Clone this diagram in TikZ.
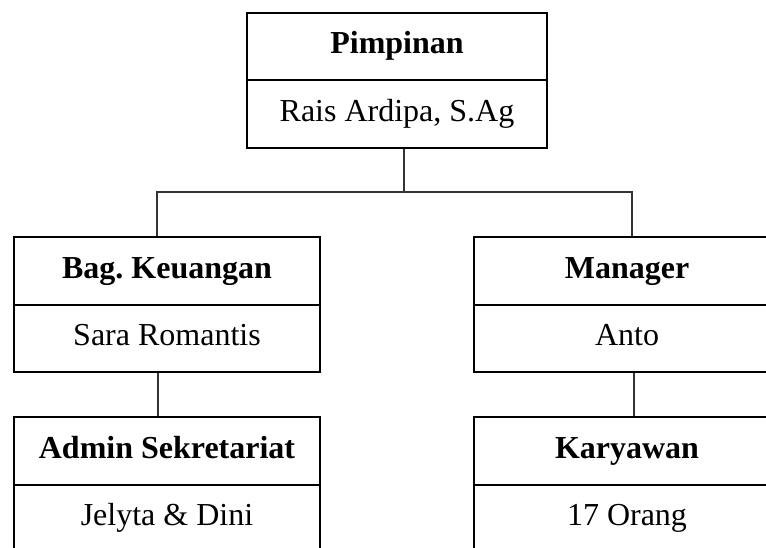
\documentclass[tikz,border=0pt]{standalone}
\usepackage{fontspec}
\setmainfont{Liberation Serif}
\frenchspacing
\begin{document}
\begin{tikzpicture}[x=1pt,y=-1pt,
  boxhead/.style={draw=black,line width=2.6pt,rectangle,inner sep=0pt,minimum width=306pt,minimum height=68pt,text height=22.4pt,text depth=8.4pt,font=\fontsize{32}{38}\selectfont\bfseries},
  boxbody/.style={draw=black,line width=2.6pt,rectangle,inner sep=0pt,minimum width=306pt,minimum height=67pt,text height=22.4pt,text depth=8.4pt,font=\fontsize{32}{38}\selectfont},
  conn/.style={draw=black!80,line width=1.6pt}]
\useasboundingbox (0,0) rectangle (766,547);
\clip (0,0) rectangle (766,547);
% top
\node[boxhead,minimum width=300pt,minimum height=67pt] (pimH) at (397,46.5) {Pimpinan};
\node[boxbody,minimum width=300pt,minimum height=68pt] (pimB) at (397,114) {Rais Ardipa, S.Ag};
% middle
\node[boxhead] (keuH) at (167,271) {Bag.\ Keuangan};
\node[boxbody] (keuB) at (167,338.5) {Sara Romantis};
\node[boxhead] (manH) at (627,271) {Manager};
\node[boxbody] (manB) at (627,338.5) {Anto};
% bottom
\node[boxhead] (admH) at (167,451) {Admin Sekretariat};
\node[boxbody] (admB) at (167,518.5) {Jelyta \& Dini};
\node[boxhead] (karH) at (627,451) {Karyawan};
\node[boxbody] (karB) at (627,518.5) {17 Orang};
% connectors
\coordinate (jc) at (404,192);
\coordinate (jl) at (157,192);
\coordinate (jr) at (632,192);
\coordinate (xl) at (158,0);
\coordinate (xr) at (634,0);
\draw[conn] (pimB.south -| jc) -- (jc);
\draw[conn] (keuH.north -| jl) -- (jl) -- (jr) -- (manH.north -| jr);
\draw[conn] (keuB.south -| xl) -- (admH.north -| xl);
\draw[conn] (manB.south -| xr) -- (karH.north -| xr);
\end{tikzpicture}
\end{document}
